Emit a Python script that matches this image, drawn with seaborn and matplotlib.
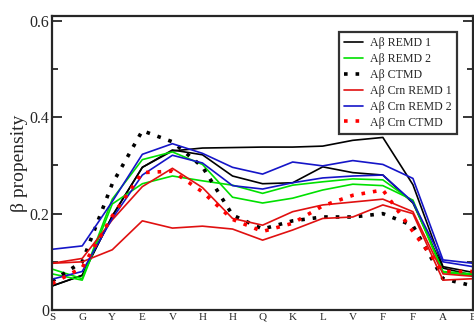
import numpy as np
import pandas as pd
import matplotlib
matplotlib.use("Agg")
import matplotlib.pyplot as plt
import seaborn as sns

# Residue labels along the x axis
residues = ["S", "G", "Y", "E", "V", "H", "H", "Q", "K", "L", "V", "F", "F", "A", "E"]

# Abeta REMD 1 (two runs, black)
remd1_a = [0.050, 0.072, 0.195, 0.296, 0.330, 0.336, 0.337, 0.338, 0.338, 0.340, 0.352, 0.358, 0.260, 0.090, 0.078]
remd1_b = [0.050, 0.072, 0.195, 0.296, 0.332, 0.322, 0.278, 0.262, 0.264, 0.297, 0.285, 0.280, 0.222, 0.087, 0.072]
# Abeta REMD 2 (two runs, green)
remd2_a = [0.085, 0.065, 0.230, 0.312, 0.328, 0.302, 0.234, 0.222, 0.232, 0.249, 0.261, 0.258, 0.228, 0.080, 0.075]
remd2_b = [0.075, 0.062, 0.220, 0.262, 0.278, 0.268, 0.259, 0.242, 0.259, 0.266, 0.272, 0.270, 0.225, 0.078, 0.072]
# Abeta CTMD (black dots)
ctmd = [0.060, 0.100, 0.262, 0.372, 0.349, 0.297, 0.197, 0.168, 0.185, 0.193, 0.193, 0.200, 0.175, 0.065, 0.050]
# Abeta Crn REMD 1 (two runs, red)
crn_remd1_a = [0.097, 0.100, 0.125, 0.185, 0.170, 0.174, 0.168, 0.145, 0.166, 0.190, 0.193, 0.218, 0.200, 0.062, 0.065]
crn_remd1_b = [0.097, 0.107, 0.187, 0.256, 0.294, 0.254, 0.190, 0.176, 0.204, 0.218, 0.224, 0.230, 0.204, 0.075, 0.070]
# Abeta Crn REMD 2 (two runs, blue)
crn_remd2_a = [0.126, 0.133, 0.225, 0.323, 0.345, 0.325, 0.296, 0.282, 0.307, 0.299, 0.310, 0.302, 0.273, 0.104, 0.097]
crn_remd2_b = [0.064, 0.080, 0.190, 0.280, 0.321, 0.305, 0.258, 0.251, 0.264, 0.274, 0.278, 0.280, 0.224, 0.100, 0.090]
# Abeta Crn CTMD (red dots)
crn_ctmd = [0.055, 0.088, 0.195, 0.285, 0.288, 0.245, 0.188, 0.163, 0.180, 0.216, 0.238, 0.249, 0.163, 0.080, 0.080]

sns.set_style("ticks")
plt.rcParams['font.family'] = ['Liberation Serif', 'DejaVu Serif']

dotted = (0, (1.0, 2.2))
lines = [
    # (values, legend label, colour, linestyle, linewidth)
    (remd1_a, "Aβ REMD 1", "black", "-", 1.2),
    (remd1_b, None, "black", "-", 1.2),
    (remd2_a, "Aβ REMD 2", "#00e000", "-", 1.2),
    (remd2_b, None, "#00e000", "-", 1.2),
    (ctmd, "Aβ CTMD", "black", dotted, 2.6),
    (crn_remd1_a, "Aβ Crn REMD 1", "#e01010", "-", 1.2),
    (crn_remd1_b, None, "#e01010", "-", 1.2),
    (crn_remd2_a, "Aβ Crn REMD 2", "#1515c8", "-", 1.2),
    (crn_remd2_b, None, "#1515c8", "-", 1.2),
    (crn_ctmd, "Aβ Crn CTMD", "#ff0000", dotted, 2.6),
]

fig = plt.figure(figsize=(4.74, 3.25), dpi=100)
ax = fig.add_axes([0.110, 0.046, 0.888, 0.905])

x = np.arange(len(residues))
for vals, lab, col, ls, lw in lines:
    df = pd.DataFrame({"pos": x, "beta": vals})
    sns.lineplot(data=df, x="pos", y="beta", color=col, linestyle=ls, lw=lw,
                 label=lab, ax=ax, legend=False)

# legend in the same order as the reference
handles, labels = ax.get_legend_handles_labels()
order = ["Aβ REMD 1", "Aβ REMD 2", "Aβ CTMD", "Aβ Crn REMD 1", "Aβ Crn REMD 2", "Aβ Crn CTMD"]
hmap = dict(zip(labels, handles))
leg = ax.legend([hmap[o] for o in order], order, loc="upper right",
                bbox_to_anchor=(0.963, 0.945), fontsize=8.6, frameon=True,
                fancybox=False, handlelength=1.6, handletextpad=0.6,
                labelspacing=0.32, borderpad=0.45, borderaxespad=0)
leg.get_frame().set_edgecolor("black")
leg.get_frame().set_linewidth(1.6)

ax.set_xlim(0, 14)
ax.set_ylim(0, 0.61)
ax.set_xticks(x)
ax.set_xticklabels(residues, fontsize=8)
ax.set_yticks([0, 0.2, 0.4, 0.6])
ax.set_yticklabels(["0", "0.2", "0.4", "0.6"], fontsize=11.5)
ax.set_yticks([0.1, 0.3, 0.5], minor=True)
ax.tick_params(axis="y", which="both", direction="in", left=True, right=True, width=1.3)
ax.tick_params(axis="y", which="major", length=7, pad=2)
ax.tick_params(axis="y", which="minor", length=4)
ax.tick_params(axis="x", length=0, pad=2)
ax.set_xlabel("")
ax.set_ylabel("β propensity", fontsize=14, labelpad=1)
for s in ax.spines.values():
    s.set_visible(True)
    s.set_linewidth(1.6)

fig.savefig("out.png", dpi=100)
